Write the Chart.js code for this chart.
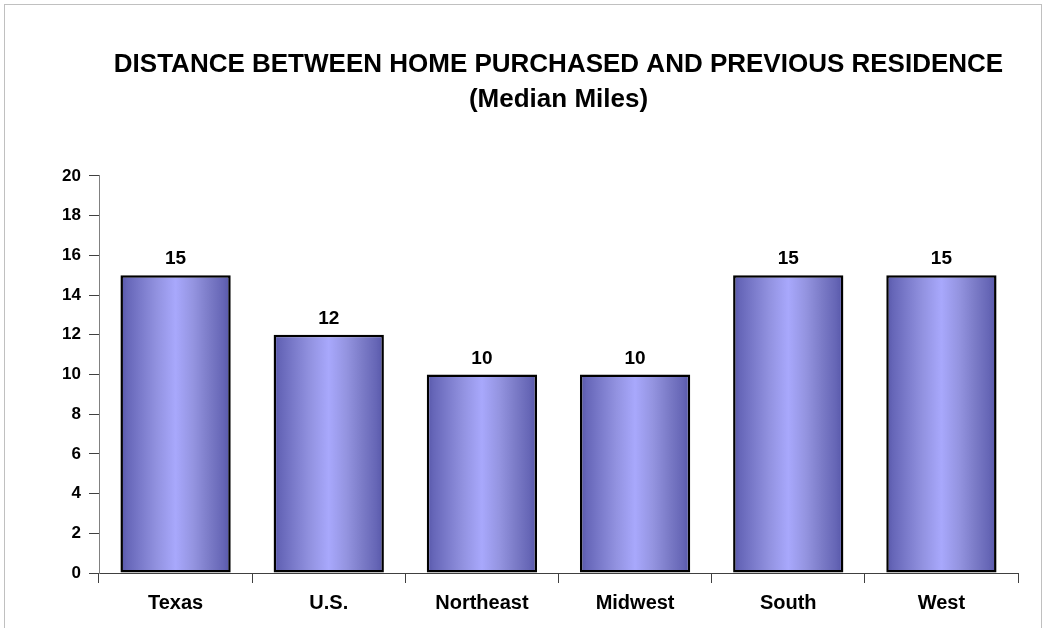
<!DOCTYPE html>
<html>
<head>
<meta charset="utf-8">
<script src="https://cdn.jsdelivr.net/npm/chart.js@4/dist/chart.umd.min.js"></script>
<style>
html,body{margin:0;padding:0;background:#fff;overflow:hidden;width:1047px;height:628px;}
#box{position:absolute;left:4px;top:4px;width:1036px;height:660px;border:1px solid #c0c0c0;}
canvas{display:block;}
</style>
</head>
<body>
<div id="box"><canvas id="c" width="1036" height="660"></canvas></div>
<script>
const categories = ["Texas", "U.S.", "Northeast", "Midwest", "South", "West"];
const medianMiles = [15, 12, 10, 10, 15, 15];
const titleLines = ["DISTANCE BETWEEN HOME PURCHASED AND PREVIOUS RESIDENCE", "(Median Miles)"];
const yTicks = { min: 0, max: 20, step: 2 };

const FONT = "'Liberation Sans', Arial, sans-serif";

const gradientPlugin = {
  id: 'barGradient',
  beforeDatasetsDraw(chart) {
    const ctx = chart.ctx;
    chart.getDatasetMeta(0).data.forEach(el => {
      const l = el.x - el.width / 2, r = el.x + el.width / 2;
      const g = ctx.createLinearGradient(l, 0, r, 0);
      g.addColorStop(0.0, '#5656a8');
      g.addColorStop(0.06, '#6666b8');
      g.addColorStop(0.18, '#7a7aca');
      g.addColorStop(0.33, '#9292e0');
      g.addColorStop(0.5, '#a8a8fc');
      g.addColorStop(0.66, '#9494e0');
      g.addColorStop(0.8, '#7c7cc8');
      g.addColorStop(0.93, '#6666b6');
      g.addColorStop(1.0, '#5656a8');
      el.options = Object.assign({}, el.options, { backgroundColor: g });
    });
  }
};

const labelPlugin = {
  id: 'valueLabels',
  afterDatasetsDraw(chart) {
    const ctx = chart.ctx;
    ctx.save();
    ctx.font = "bold 19px " + FONT;
    ctx.fillStyle = '#000';
    ctx.textAlign = 'center';
    ctx.textBaseline = 'middle';
    chart.getDatasetMeta(0).data.forEach((el, i) => {
      ctx.fillText(String(medianMiles[i]), el.x, el.y - 16);
    });
    ctx.restore();
  }
};

new Chart(document.getElementById('c'), {
  type: 'bar',
  data: {
    labels: categories,
    datasets: [{
      data: medianMiles,
      backgroundColor: '#9090e0',
      borderColor: '#000',
      borderWidth: 2.5,
      borderSkipped: false,
      barPercentage: 0.72,
      categoryPercentage: 1.0
    }]
  },
  options: {
    responsive: false,
    animation: false,
    layout: { padding: { left: 0, right: 23, top: 0, bottom: 42 } },
    plugins: {
      legend: { display: false },
      tooltip: { enabled: false },
      title: {
        display: true,
        fullSize: false,
        text: titleLines,
        color: '#000',
        font: { family: FONT, size: 26, weight: 'bold', lineHeight: 1.346 },
        padding: { top: 42, bottom: 59 }
      }
    },
    scales: {
      x: {
        grid: { display: true, drawOnChartArea: false, offset: true, tickLength: 10, color: '#404040', lineWidth: 1 },
        border: { display: true, color: '#404040', width: 1 },
        ticks: { color: '#000', font: { family: FONT, size: 20, weight: 'bold' }, padding: 8 }
      },
      y: {
        min: yTicks.min,
        max: yTicks.max,
        afterFit(s) { s.width = 94; },
        grid: { display: true, drawOnChartArea: false, tickLength: 10, color: '#404040', lineWidth: 1 },
        border: { display: true, color: '#808080', width: 1 },
        ticks: { stepSize: yTicks.step, color: '#000', font: { family: FONT, size: 17, weight: 'bold' }, padding: 8 }
      }
    }
  },
  plugins: [gradientPlugin, labelPlugin]
});
</script>
</body>
</html>
